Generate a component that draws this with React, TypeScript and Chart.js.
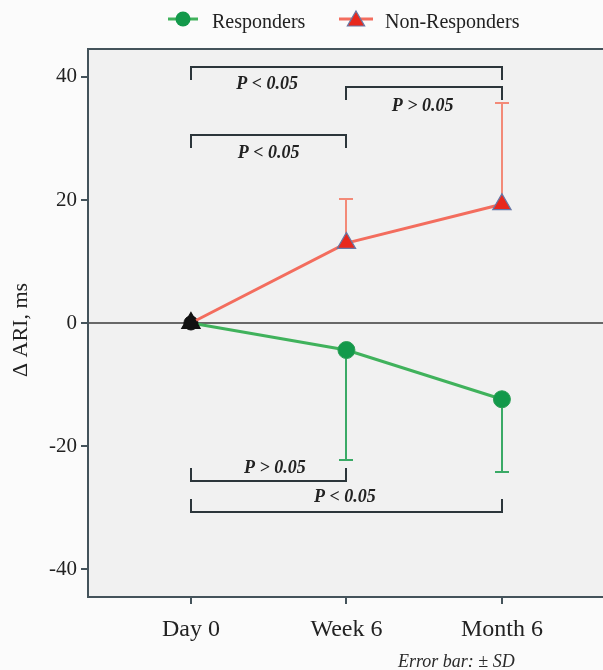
import React, { useEffect, useRef } from 'react';
import { Chart, registerables } from 'chart.js';

Chart.register(...registerables);

const categories = ['Day 0', 'Week 6', 'Month 6'];
const responders = [0, -4.4, -12.4];
const respondersSD = [0, 17.9, 11.8];
const nonResponders = [0, 13.0, 19.3];
const nonRespondersSD = [0, 7.2, 16.5];
const yTicks = [-40, -20, 0, 20, 40];

// significance brackets: category index range, bracket level (data units), tick direction, label
const bracketFrom = [0, 1, 0, 0, 0];
const bracketTo = [2, 2, 1, 1, 2];
const bracketLevel = [41.6, 38.4, 30.6, -25.7, -30.7];
const bracketTickDir = [-1, -1, -1, 1, 1];
const bracketText = ['P < 0.05', 'P > 0.05', 'P < 0.05', 'P > 0.05', 'P < 0.05'];
const bracketLabelX = [0.49, 1.49, 0.5, 0.54, 0.99];
const bracketLabelY = [38.8, 35.3, 27.6, -23.6, -28.4];

const SERIF = '"Liberation Serif", "Times New Roman", serif';
const GREEN_LINE = '#40b25c';
const GREEN_FILL = '#13994b';
const GREEN_ERR = '#3aaa66';
const RED_LINE = '#f36d5e';
const RED_FILL = '#e8281d';
const RED_ERR = '#f38a78';
const TRI_EDGE = '#6878a6';
const AXIS = '#44535b';
const BRACKET = '#2c363b';
const TEXT = '#222222';

function triangle(ctx: CanvasRenderingContext2D, x: number, y: number, r: number) {
  ctx.beginPath();
  for (let k = 0; k < 3; k++) {
    const a = (k * 2 * Math.PI) / 3;
    const px = x + Math.sin(a) * r;
    const py = y - Math.cos(a) * r;
    if (k === 0) ctx.moveTo(px, py);
    else ctx.lineTo(px, py);
  }
  ctx.closePath();
}

const decorPlugin = {
  id: 'decor',
  beforeDraw(chart: any) {
    const { ctx, chartArea: a } = chart;
    ctx.save();
    ctx.fillStyle = '#fbfbfb';
    ctx.fillRect(0, 0, chart.width, chart.height);
    ctx.fillStyle = '#f1f1f1';
    ctx.fillRect(a.left, a.top, chart.width - a.left, a.bottom - a.top);
    ctx.restore();
  },
  beforeDatasetsDraw(chart: any) {
    const { ctx, scales } = chart;
    const xs = scales.x;
    const ys = scales.y;
    ctx.save();
    // zero line
    const y0 = Math.round(ys.getPixelForValue(0));
    ctx.strokeStyle = '#3a3a3a';
    ctx.lineWidth = 1.5;
    ctx.beginPath();
    ctx.moveTo(chart.chartArea.left, y0);
    ctx.lineTo(chart.width, y0);
    ctx.stroke();

    // error bars
    const drawErr = (vals: number[], sds: number[], color: string) => {
      ctx.strokeStyle = color;
      ctx.lineWidth = 2;
      vals.forEach((v, i) => {
        if (!sds[i]) return;
        const dir = v < 0 ? -1 : 1;
        const x = Math.round(xs.getPixelForValue(i));
        const yA = ys.getPixelForValue(v);
        const yB = Math.round(ys.getPixelForValue(v + dir * sds[i]));
        ctx.beginPath();
        ctx.moveTo(x, yA);
        ctx.lineTo(x, yB);
        ctx.moveTo(x - 7, yB);
        ctx.lineTo(x + 7, yB);
        ctx.stroke();
      });
    };
    drawErr(responders, respondersSD, GREEN_ERR);
    drawErr(nonResponders, nonRespondersSD, RED_ERR);

    // brackets
    ctx.strokeStyle = BRACKET;
    ctx.lineWidth = 2;
    bracketFrom.forEach((f, i) => {
      const x1 = Math.round(xs.getPixelForValue(f));
      const x2 = Math.round(xs.getPixelForValue(bracketTo[i]));
      const yl = Math.round(ys.getPixelForValue(bracketLevel[i]));
      const yt = Math.round(ys.getPixelForValue(bracketLevel[i] + bracketTickDir[i] * 2.1));
      ctx.beginPath();
      ctx.moveTo(x1, yt);
      ctx.lineTo(x1, yl);
      ctx.lineTo(x2, yl);
      ctx.lineTo(x2, yt);
      ctx.stroke();
    });
    ctx.restore();
  },
  afterDraw(chart: any) {
    const { ctx, chartArea: a, scales } = chart;
    const xs = scales.x;
    const ys = scales.y;
    ctx.save();
    // plot frame
    ctx.strokeStyle = AXIS;
    ctx.lineWidth = 2;
    ctx.beginPath();
    ctx.moveTo(chart.width, a.top);
    ctx.lineTo(a.left, a.top);
    ctx.lineTo(a.left, a.bottom);
    ctx.lineTo(chart.width, a.bottom);
    ctx.stroke();

    // bracket labels
    ctx.fillStyle = TEXT;
    ctx.font = `italic bold 18px ${SERIF}`;
    ctx.textAlign = 'center';
    ctx.textBaseline = 'middle';
    bracketText.forEach((t, i) => {
      ctx.fillText(t, xs.getPixelForValue(bracketLabelX[i]), ys.getPixelForValue(bracketLabelY[i]));
    });

    // y axis title
    ctx.save();
    ctx.translate(21, 330);
    ctx.rotate(-Math.PI / 2);
    ctx.font = `22px ${SERIF}`;
    ctx.textAlign = 'center';
    ctx.textBaseline = 'middle';
    ctx.fillText('\u0394 ARI, ms', 0, 0);
    ctx.restore();

    // footer
    ctx.font = `italic 18px ${SERIF}`;
    ctx.textAlign = 'left';
    ctx.textBaseline = 'alphabetic';
    ctx.fillStyle = '#2a2a2a';
    ctx.fillText('Error bar: \u00b1 SD', 398, 667);

    // legend
    const ly = 19;
    ctx.lineWidth = 3;
    ctx.strokeStyle = GREEN_LINE;
    ctx.beginPath();
    ctx.moveTo(168, ly);
    ctx.lineTo(198, ly);
    ctx.stroke();
    ctx.fillStyle = GREEN_FILL;
    ctx.beginPath();
    ctx.arc(183, ly, 7.5, 0, Math.PI * 2);
    ctx.fill();
    ctx.strokeStyle = RED_LINE;
    ctx.beginPath();
    ctx.moveTo(339, ly);
    ctx.lineTo(373, ly);
    ctx.stroke();
    triangle(ctx, 356, ly + 2, 10);
    ctx.fillStyle = RED_FILL;
    ctx.fill();
    ctx.lineWidth = 1.2;
    ctx.strokeStyle = TRI_EDGE;
    ctx.stroke();
    ctx.fillStyle = TEXT;
    ctx.font = `20px ${SERIF}`;
    ctx.textAlign = 'left';
    ctx.textBaseline = 'alphabetic';
    ctx.fillText('Responders', 212, 28);
    ctx.fillText('Non-Responders', 385, 28);
    ctx.restore();
  },
};

export default function App() {
  const ref = useRef<HTMLCanvasElement | null>(null);
  useEffect(() => {
    document.body.style.margin = '0';
    document.body.style.background = '#fbfbfb';
    const canvas = ref.current;
    if (!canvas) return;
    const chart = new Chart(canvas, {
      type: 'line',
      data: {
        datasets: [
          {
            label: 'Responders',
            data: responders.map((v, i) => ({ x: i, y: v })),
            borderColor: GREEN_LINE,
            borderWidth: 3,
            pointStyle: 'circle',
            pointRadius: [7, 8.5, 8.5],
            pointBackgroundColor: ['#111111', GREEN_FILL, GREEN_FILL],
            pointBorderColor: ['#111111', '#2c9f56', '#2c9f56'],
            pointBorderWidth: 1,
            order: 2,
          },
          {
            label: 'Non-Responders',
            data: nonResponders.map((v, i) => ({ x: i, y: v })),
            borderColor: RED_LINE,
            borderWidth: 3,
            pointStyle: 'triangle',
            pointRadius: 10.5,
            pointBackgroundColor: ['#111111', RED_FILL, RED_FILL],
            pointBorderColor: ['#111111', TRI_EDGE, TRI_EDGE],
            pointBorderWidth: 1.3,
            order: 1,
          },
        ],
      },
      options: {
        responsive: false,
        animation: false,
        devicePixelRatio: 1,
        layout: { autoPadding: false, padding: { top: 49, left: 0, right: 0, bottom: 0 } },
        plugins: { legend: { display: false }, tooltip: { enabled: false } },
        scales: {
          x: {
            type: 'linear',
            min: -0.662,
            max: 2.65,
            afterBuildTicks: (s: any) => {
              s.ticks = categories.map((_, i) => ({ value: i }));
            },
            afterFit: (s: any) => {
              s.height = 73;
              s.paddingLeft = 0;
              s.paddingRight = 0;
            },
            ticks: {
              callback: (v: any) => categories[v] ?? '',
              font: { family: SERIF, size: 24 },
              color: TEXT,
              padding: 11,
              maxRotation: 0,
              autoSkip: false,
            },
            grid: { drawOnChartArea: false, drawTicks: true, tickLength: 7, color: AXIS, lineWidth: 2 },
            border: { display: false },
          },
          y: {
            type: 'linear',
            min: -44.55,
            max: 44.55,
            afterBuildTicks: (s: any) => {
              s.ticks = yTicks.map((v) => ({ value: v }));
            },
            afterFit: (s: any) => {
              s.width = 88;
              s.paddingTop = 0;
              s.paddingBottom = 0;
            },
            ticks: {
              font: { family: SERIF, size: 21 },
              color: TEXT,
              padding: 4,
            },
            grid: { drawOnChartArea: false, drawTicks: true, tickLength: 7, color: AXIS, lineWidth: 2 },
            border: { display: false },
          },
        },
      },
      plugins: [decorPlugin],
    } as any);
    return () => chart.destroy();
  }, []);
  return (
    <div style={{ width: 603, height: 670 }}>
      <canvas ref={ref} width={603} height={670} style={{ display: 'block' }} />
    </div>
  );
}
